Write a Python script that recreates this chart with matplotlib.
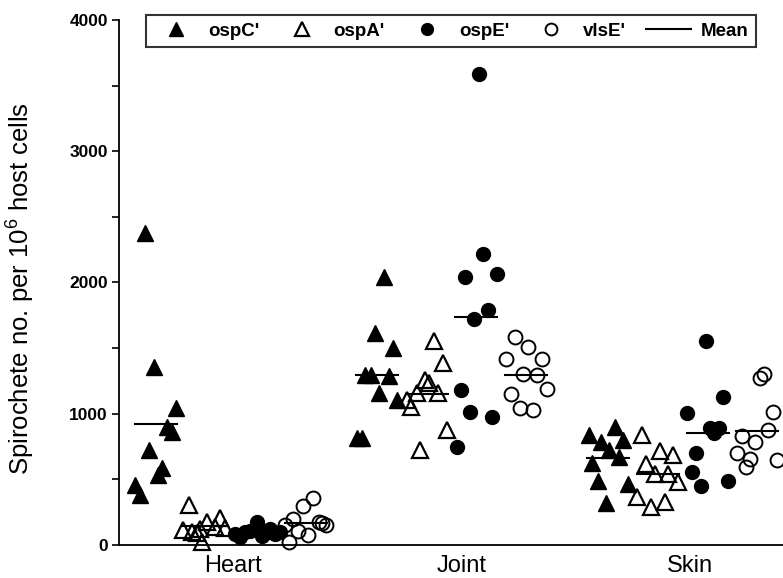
import numpy as np
import matplotlib.pyplot as plt
from matplotlib.lines import Line2D
from matplotlib.ticker import MultipleLocator

plt.rcParams['font.family'] = 'Liberation Sans'
plt.rcParams['mathtext.fontset'] = 'custom'
plt.rcParams['mathtext.rm'] = 'Liberation Sans'
plt.rcParams['mathtext.default'] = 'regular'

tissues = ['Heart', 'Joint', 'Skin']

# spirochete counts (per 10^6 host cells), one list per tissue: Heart, Joint, Skin
ospC = [[2377, 1356, 1044, 899, 861, 724, 587, 533, 457, 381],
        [2042, 1615, 1501, 1295, 1295, 1288, 1158, 1105, 815, 815],
        [838, 899, 785, 800, 724, 670, 625, 488, 465, 320]]
ospA = [[305, 115, 100, 120, 25, 175, 205, 130, 140, 95],
        [1554, 1387, 1257, 1234, 1158, 1158, 1105, 1051, 876, 724],
        [838, 716, 686, 617, 541, 541, 480, 366, 328, 290]]
ospE = [[80, 60, 100, 110, 175, 70, 90, 120, 85, 100],
        [3589, 2217, 2042, 2065, 1790, 1722, 1181, 1013, 975, 747],
        [1554, 1128, 1006, 891, 891, 853, 701, 556, 488, 450]]
vlsE = [[358, 297, 198, 152, 107, 76, 23, 175, 168, 152],
        [1585, 1509, 1417, 1417, 1303, 1295, 1189, 1150, 1044, 1029],
        [1303, 1272, 1013, 876, 830, 785, 701, 655, 594, 648]]

# horizontal scatter of each point around its tissue (x units)
ospC_dx = [[-0.385, -0.349, -0.249, -0.288, -0.266, -0.367, -0.310, -0.328, -0.432, -0.410],
           [-0.341, -0.380, -0.301, -0.424, -0.397, -0.319, -0.362, -0.284, -0.459, -0.437],
           [-0.445, -0.328, -0.389, -0.293, -0.354, -0.310, -0.428, -0.406, -0.271, -0.367]]
ospA_dx = [[-0.192, -0.218, -0.179, -0.144, -0.135, -0.114, -0.057, -0.035, -0.079, -0.157],
           [-0.122, -0.083, -0.162, -0.144, -0.197, -0.105, -0.240, -0.223, -0.066, -0.183],
           [-0.210, -0.131, -0.074, -0.192, -0.153, -0.096, -0.052, -0.231, -0.109, -0.170]]
ospE_dx = [[0.009, 0.031, 0.052, 0.074, 0.105, 0.127, 0.140, 0.162, 0.183, 0.205],
           [0.074, 0.092, 0.013, 0.153, 0.114, 0.052, -0.004, 0.035, 0.131, -0.022],
           [0.070, 0.144, -0.013, 0.087, 0.127, 0.105, 0.026, 0.009, 0.166, 0.048]]
vlsE_dx = [[0.349, 0.306, 0.262, 0.227, 0.284, 0.328, 0.245, 0.376, 0.389, 0.406],
           [0.231, 0.288, 0.192, 0.349, 0.266, 0.328, 0.371, 0.214, 0.253, 0.310],
           [0.323, 0.306, 0.362, 0.341, 0.227, 0.284, 0.205, 0.262, 0.245, 0.380]]

fig = plt.figure(figsize=(7.83, 5.78), dpi=100)
# axes run past the right edge on purpose (the original is cropped there)
ax = fig.add_axes([0.152, 0.0571, 0.8755, 0.9083])

series = [
    (ospC, ospC_dx, dict(marker='^', ms=12, color='k', mfc='k')),
    (ospA, ospA_dx, dict(marker='^', ms=12, color='k', mfc='none', mew=1.6)),
    (ospE, ospE_dx, dict(marker='o', ms=10, color='k', mfc='k')),
    (vlsE, vlsE_dx, dict(marker='o', ms=10, color='k', mfc='none', mew=1.4)),
]

for vals, dx, style in series:
    for i in range(len(tissues)):
        x = (i + 1) + np.array(dx[i])
        y = np.array(vals[i])
        ax.plot(x, y, ls='none', clip_on=False, zorder=3, **style)
        # mean line
        xc = x.mean()
        ax.plot([xc - 0.092, xc + 0.092], [y.mean(), y.mean()], color='k', lw=1.5, zorder=4)

ax.set_xlim(0.5, 3.5)
ax.set_ylim(0, 4000)
ax.set_xticks([1, 2, 3])
ax.set_xticklabels(tissues, fontsize=17)
ax.tick_params(axis='x', length=0, pad=7)

ax.set_yticks([0, 1000, 2000, 3000, 4000])
ax.yaxis.set_minor_locator(MultipleLocator(500))
ax.tick_params(axis='y', which='both', length=5, width=1.2, direction='out', pad=3)
for lab in ax.get_yticklabels():
    lab.set_fontweight('bold')
    lab.set_fontsize(12.5)

for s in ['top', 'right']:
    ax.spines[s].set_visible(False)
for s in ['left', 'bottom']:
    ax.spines[s].set_linewidth(1.3)

fig.text(21 / 783, 1 - 289 / 578, 'Spirochete no. per 10$^{6}$ host cells',
         rotation=90, ha='center', va='center', fontsize=18.5)

handles = [Line2D([], [], ls='none', marker='^', ms=10, color='k'),
           Line2D([], [], ls='none', marker='^', ms=10, color='k', mfc='none', mew=1.6),
           Line2D([], [], ls='none', marker='o', ms=8.5, color='k'),
           Line2D([], [], ls='none', marker='o', ms=8.5, color='k', mfc='none', mew=1.4),
           Line2D([], [], color='k', lw=1.5)]
labels = ["ospC'", "ospA'", "ospE'", "vlsE'", 'Mean']
leg = fig.legend(handles, labels, ncol=5, loc='upper center',
                 bbox_to_anchor=(0.576, 0.99), frameon=True, fancybox=False,
                 edgecolor='k', prop={'weight': 'bold', 'size': 13.5},
                 handlelength=2.4, handletextpad=0.5, columnspacing=1.05,
                 borderpad=0.4)
leg.get_frame().set_linewidth(1.5)

fig.savefig('out.png', dpi=100)
